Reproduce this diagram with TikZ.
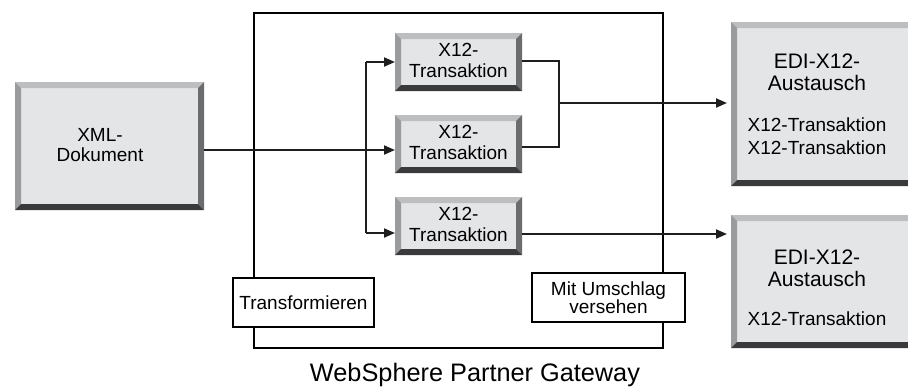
\documentclass[tikz,border=0pt]{standalone}
\usepackage{fontspec}
\setmainfont{Liberation Sans}
\usetikzlibrary{arrows.meta}

\definecolor{facegray}{HTML}{E4E5E7}
\definecolor{bevtop}{HTML}{BDBEC0}
\definecolor{bevleft}{HTML}{9A9B9D}
\definecolor{bevright}{HTML}{6B6C6E}
\definecolor{bevbottom}{HTML}{3A3A3C}
\definecolor{wirecol}{HTML}{1E1E1E}

% raised grey box with a bevelled rim: name, x1, y1, x2, y2
\def\bw{6}
\newcommand\bevelbox[5]{%
  \node[face, minimum width={#4-#2}, minimum height={#5-#3}] (#1) at ({(#2+#4)/2},{(#3+#5)/2}) {};
  \fill[bevtop] (#1.north west) -- (#1.north east) -- ([shift={(-\bw,\bw)}]#1.north east) -- ([shift={(\bw,\bw)}]#1.north west) -- cycle;
  \fill[bevleft] (#1.north west) -- (#1.south west) -- ([shift={(\bw,-\bw)}]#1.south west) -- ([shift={(\bw,\bw)}]#1.north west) -- cycle;
  \fill[bevright] (#1.north east) -- (#1.south east) -- ([shift={(-\bw,-\bw)}]#1.south east) -- ([shift={(-\bw,\bw)}]#1.north east) -- cycle;
  \fill[bevbottom] (#1.south west) -- (#1.south east) -- ([shift={(-\bw,-\bw)}]#1.south east) -- ([shift={(\bw,-\bw)}]#1.south west) -- cycle;
}

\begin{document}
\begin{tikzpicture}[x=1pt, y=-1pt,
  face/.style={fill=facegray, draw=none, inner sep=0pt, outer sep=0pt},
  lbl/.style={font=\fontsize{19}{20.5}\selectfont, align=center, inner sep=0pt},
  body/.style={font=\fontsize{19}{23}\selectfont, align=center, inner sep=0pt},
  head/.style={font=\fontsize{21}{22.5}\selectfont, align=center, inner sep=0pt},
  wire/.style={line width=2pt, draw=wirecol},
  arr/.style={wire, -{Triangle[length=11pt,width=9pt]}},
  tagbox/.style={draw=black, line width=2pt, fill=white, inner sep=0pt, outer sep=0pt,
                 font=\fontsize{19}{18.5}\selectfont, align=center},
]
\clip (0,0) rectangle (908,386);
\useasboundingbox (0,0) rectangle (908,386);

% gateway frame
\node[draw=black, line width=2pt, minimum width=409, minimum height=335, inner sep=0pt] (frame) at (458.5,180.5) {};

% source document
\bevelbox{xml}{15}{82}{204}{210}
\node[lbl] (xmltxt) at (100,145) {XML-\\Dokument};

% transactions
\bevelbox{x12a}{395}{33}{522}{91}
\bevelbox{x12b}{395}{115}{522}{173}
\bevelbox{x12c}{395}{197}{522}{255}
\node[lbl] (x12atxt) at ([yshift=1.5]x12a.center) {X12-\\Transaktion};
\node[lbl] (x12btxt) at ([yshift=1.5]x12b.center) {X12-\\Transaktion};
\node[lbl] (x12ctxt) at ([yshift=1.5]x12c.center) {X12-\\Transaktion};

% interchanges
\bevelbox{edi1}{731}{22}{914}{186}
\bevelbox{edi2}{731}{215}{914}{348}
\node[head] (edi1head) at (817,72.5) {EDI-X12-\\Austausch};
\node[body] (edi1body) at (817,136.5) {X12-Transaktion\\X12-Transaktion};
\node[head] (edi2head) at (817,268.5) {EDI-X12-\\Austausch};
\node[body, anchor=base] (edi2body) at (817,325) {X12-Transaktion};

% step labels
\node[tagbox, minimum width=141, minimum height=49] (trans) at (303.5,302.5) {Transformieren};
\node[tagbox, minimum width=153, minimum height=49] (wrap) at (608.5,297.5) {Mit Umschlag\\versehen};

% title
\node[inner sep=0pt, anchor=base, font=\fontsize{25.3}{28}\selectfont] (title) at (475,381) {WebSphere Partner Gateway};

% fan-out
\coordinate (inrow) at (0,150);
\coordinate (splitA) at (366,62);
\coordinate (splitC) at (366,233);
\draw[arr] (xml.east |- inrow) -- (x12b.west |- inrow);
\draw[wire] (splitA) -- (splitC);
\draw[arr] (splitA) -- (x12a.west |- splitA);
\draw[arr] (splitC) -- (x12c.west |- splitC);

% merge into interchanges
\coordinate (joinA) at (559,61);
\coordinate (joinB) at (559,147);
\coordinate (joinOut) at (559,103);
\draw[wire] (x12a.east |- joinA) -- (joinA) -- (joinB) -- (x12b.east |- joinB);
\draw[arr] (joinOut) -- ([xshift=-4]edi1.west |- joinOut);
\coordinate (outC) at (522,234);
\draw[arr] (x12c.east |- outC) -- ([xshift=-4]edi2.west |- outC);
\end{tikzpicture}
\end{document}
